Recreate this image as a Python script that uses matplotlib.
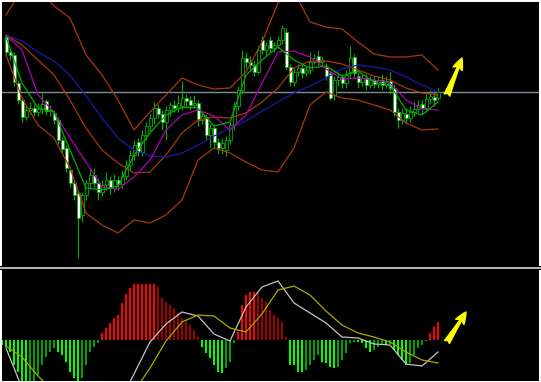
import matplotlib
matplotlib.use('Agg')
import matplotlib.pyplot as plt
from matplotlib.patches import Rectangle

# ---- price candles (one per slot, slots 1..109) ----
opens = [263, 248, 245, 217, 200, 183, 190, 192, 188, 191,
         199, 189, 187, 180, 160, 152, 130, 117, 107, 85,
         105, 117, 125, 117, 108, 115, 120, 112, 120, 116,
         124, 135, 145, 158, 148, 165, 174, 182, 192, 186,
         178, 190, 195, 192, 194, 202, 200, 195, 197, 180,
         183, 165, 172, 158, 152, 150, 160, 175, 194, 210,
         242, 238, 235, 228, 260, 250, 260, 252, 255, 260,
         268, 233, 218, 228, 232, 227, 230, 238, 244, 238,
         233, 227, 205, 220, 223, 217, 228, 243, 224, 218,
         222, 215, 220, 216, 220, 215, 219, 212, 188, 180,
         186, 182, 188, 191, 196, 192, 201, 203, 202]
closes = [248, 245, 218, 200, 183, 190, 192, 188, 191, 196,
          189, 190, 180, 160, 151, 132, 117, 105, 82, 105,
          117, 125, 117, 108, 115, 120, 112, 120, 116, 124,
          135, 145, 155, 148, 165, 174, 182, 192, 186, 178,
          190, 195, 192, 197, 202, 199, 195, 197, 180, 184,
          165, 172, 158, 152, 157, 160, 175, 194, 210, 242,
          238, 235, 228, 250, 250, 255, 252, 255, 260, 272,
          233, 218, 228, 232, 227, 230, 238, 242, 238, 240,
          224, 202, 220, 223, 217, 225, 242, 227, 218, 222,
          215, 220, 216, 220, 215, 219, 212, 188, 180, 187,
          182, 188, 191, 195, 192, 201, 204, 200, 208]
highs = [266, 252, 248, 220, 203, 195, 198, 196, 197, 207,
         201, 195, 190, 183, 163, 155, 133, 120, 110, 108,
         120, 132, 132, 122, 120, 128, 124, 126, 124, 130,
         140, 150, 160, 162, 170, 178, 186, 198, 196, 190,
         194, 198, 200, 205, 219, 206, 204, 205, 200, 188,
         186, 176, 176, 162, 162, 164, 178, 198, 214, 250,
         248, 244, 240, 254, 264, 258, 264, 258, 264, 275,
         272, 236, 232, 236, 236, 234, 248, 246, 250, 244,
         237, 230, 224, 228, 226, 230, 254, 246, 228, 226,
         226, 224, 224, 224, 226, 224, 228, 216, 192, 192,
         192, 194, 198, 200, 200, 206, 210, 208, 212]
lows = [244, 240, 214, 196, 178, 180, 186, 184, 184, 186,
        185, 184, 176, 156, 147, 128, 113, 100, 42, 78,
        100, 112, 112, 100, 104, 110, 106, 108, 110, 112,
        120, 130, 140, 144, 144, 160, 168, 176, 182, 170,
        160, 184, 188, 188, 190, 194, 190, 192, 174, 176,
        160, 152, 152, 146, 146, 144, 156, 170, 190, 206,
        232, 230, 224, 226, 246, 244, 248, 248, 252, 256,
        230, 214, 214, 224, 222, 224, 226, 236, 234, 234,
        220, 200, 200, 214, 212, 212, 222, 222, 212, 214,
        210, 212, 212, 212, 210, 212, 206, 184, 172, 176,
        176, 178, 184, 188, 186, 188, 196, 194, 200]

# ---- indicator lines, read every 4th slot (1, 5, ..., 109) ----
line_slots = list(range(1, 110, 4))
fast_ma = [263, 217, 192, 188, 150, 112, 110, 114, 145, 167, 185, 193, 192, 174,
           178, 225, 240, 253, 240, 232, 234, 224, 229, 218, 215, 190, 185, 198]
mid_ma = [265, 250, 205, 188, 162, 138, 113, 111, 123, 140, 170, 185, 190, 184,
          170, 185, 217, 248, 249, 243, 231, 221, 222, 220, 217, 200, 191, 190]
slow_ma = [265, 259, 248, 239, 225, 204, 182, 162, 150, 144, 143, 147, 155, 164,
           172, 179, 189, 198, 207, 214, 222, 231, 235, 233, 230, 223, 215, 208]
bb_upper = [285, 310, 312, 294, 282, 245, 225, 200, 170, 188, 205, 222, 215, 211,
            212, 228, 258, 297, 308, 278, 273, 271, 258, 246, 243, 243, 245, 230]
bb_mid = [265, 255, 240, 225, 200, 172, 150, 137, 127, 128, 145, 167, 180, 183,
          182, 187, 198, 212, 232, 239, 239, 236, 230, 224, 220, 212, 207, 205]
bb_lower = [245, 202, 175, 162, 132, 87, 75, 67, 80, 77, 85, 100, 140, 152,
            147, 138, 130, 128, 152, 195, 208, 202, 200, 195, 190, 177, 170, 171]
level = 208

# ---- MACD panel (slots 0..109) ----
macd_hist = [-5, -7, -12, -25, -32, -42, -46, -45, -43, -35,
             -25, -17, -12, -8, -12, -15, -22, -32, -38, -42,
             -38, -25, -12, -7, -3, 7, 12, 17, 22, 25,
             37, 46, 52, 56, 56, 56, 56, 56, 56, 53,
             42, 38, 35, 32, 27, 22, 18, 15, 10, 3,
             -7, -13, -18, -25, -32, -33, -28, -22, -3, 8,
             35, 45, 48, 48, 47, 42, 38, 30, 25, 22,
             18, 3, -25, -25, -32, -32, -30, -25, -20, -15,
             -22, -23, -27, -28, -27, -20, -13, -3, -2, -2,
             -3, -8, -12, -10, -7, -5, -5, -4, -10, -15,
             -20, -25, -23, -15, -8, -5, -1, 7, 13, 18]
macd_main = [-8, -48, -70, -80, -85, -85, -78, -65, -34, -2, 16, 28, 24, 6,
             -1, 33, 53, 59, 37, 27, 17, 3, 2, -4, -5, -24, -26, -12]
macd_signal = [-6, -17, -36, -52, -65, -72, -73, -65, -52, -28, -1, 18, 25, 24,
               12, 8, 26, 50, 54, 45, 29, 15, 7, 3, -2, -12, -20, -23]

W, H = 541, 382
fig = plt.figure(figsize=(W / 100, H / 100), dpi=100, facecolor='white')

ax = fig.add_axes([2 / W, (H - 266) / H, 537 / W, 264 / H])
ax2 = fig.add_axes([2 / W, 1 / H, 537 / W, 111 / H])
for a in (ax, ax2):
    a.set_facecolor('black')
    a.set_xticks([])
    a.set_yticks([])
    for sp in a.spines.values():
        sp.set_visible(False)
    a.set_xlim(0, 134.25)

# separator between the two panels
fig.add_artist(Rectangle((0, (H - 270) / H), 1, 4 / H, transform=fig.transFigure,
                         facecolor='black', edgecolor='none'))
fig.add_artist(Rectangle((0, (H - 269) / H), 1, 2 / H, transform=fig.transFigure,
                         facecolor='#b4b4b4', edgecolor='none'))

# candles
slots = list(range(1, len(opens) + 1))
ax.vlines(slots, lows, highs, color='#00b000', lw=0.8, zorder=2)
bottoms = [min(o, c) for o, c in zip(opens, closes)]
heights = [abs(c - o) for o, c in zip(opens, closes)]
faces = ['black' if c > o else 'white' for o, c in zip(opens, closes)]
ax.bar(slots, heights, bottom=bottoms, width=0.75, color=faces,
       edgecolor='#00b000', linewidth=0.6, zorder=3)

ax.axhline(level, color='#7f8b98', lw=1, zorder=1)
ax.plot(line_slots, bb_upper, color='#a8380c', lw=0.9, zorder=4)
ax.plot(line_slots, bb_mid, color='#a8380c', lw=0.9, zorder=4)
ax.plot(line_slots, bb_lower, color='#a8380c', lw=0.9, zorder=4)
ax.plot(line_slots, slow_ma, color='#1a1aa8', lw=0.9, zorder=4)
ax.plot(line_slots, mid_ma, color='#b000b0', lw=0.9, zorder=4)
ax.plot(line_slots, fast_ma, color='#00b000', lw=0.9, zorder=4)
ax.set_ylim(34, 298)

# MACD histogram: bright while growing, dark while shrinking
hist_colors = []
prev = 0
for v in macd_hist:
    if v >= 0:
        hist_colors.append('#ff0000' if v >= prev else '#a00000')
    else:
        hist_colors.append('#00a000' if v > prev else '#00ff00')
    prev = v
ax2.bar(range(len(macd_hist)), macd_hist, width=0.5, color=hist_colors, zorder=2)
ax2.plot(line_slots, macd_main, color='#c4c4c4', lw=0.9, zorder=3)
ax2.plot(line_slots, macd_signal, color='#aaaa00', lw=0.9, zorder=3)
ax2.set_ylim(-41, 70)

# yellow arrows
arrow = dict(arrowstyle='fancy,head_length=0.6,head_width=0.5,tail_width=0.3',
             color='#ffff00', shrinkA=0, shrinkB=0, mutation_scale=14)
ax.annotate('', xy=(462, 324), xycoords='figure pixels',
            xytext=(447, 287), textcoords='figure pixels', arrowprops=arrow)
ax2.annotate('', xy=(466, 70), xycoords='figure pixels',
             xytext=(447, 40), textcoords='figure pixels', arrowprops=arrow)

plt.savefig('out.png', dpi=100, facecolor='white')
